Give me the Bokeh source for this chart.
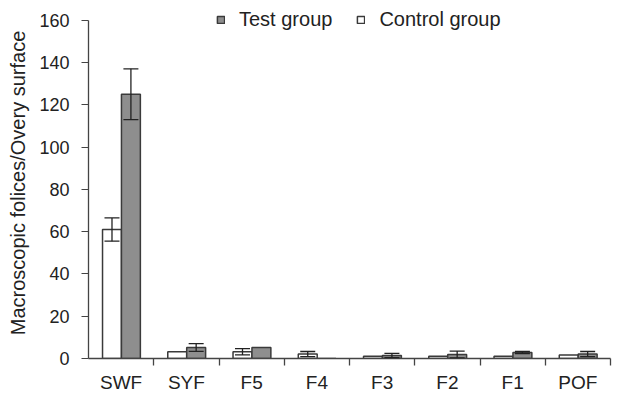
from bokeh.plotting import figure
from bokeh.models import (Range1d, LinearAxis, FixedTicker,
                          Whisker, ColumnDataSource, Legend, LegendItem, TeeHead)
from bokeh.transform import dodge
from bokeh.embed import file_html
from bokeh.resources import INLINE

cats = ["SWF", "SYF", "F5", "F4", "F3", "F2", "F1", "POF"]
control = [61, 3.2, 3.2, 2.1, 1.1, 1.1, 1.1, 1.7]
test = [125, 5.2, 5.2, 0, 1.4, 1.9, 2.8, 2.1]
control_err = [5.5, 0, 1.5, 1.2, 0, 0, 0, 0]
test_err = [12, 1.8, 0, 0, 1.0, 1.6, 0.5, 1.2]
y_ticks = [0, 20, 40, 60, 80, 100, 120, 140, 160]

FONT = "Liberation Sans"
AX = "#444444"
EDGE = "#3a3a3a"
GRAY = "#8e8e8e"
C_OFF, T_OFF, BW = -0.14, 0.15, 0.29
Y_END = 166   # a little headroom above the last tick so the legend is not clipped
FH = 351

# category slot i occupies [i, i+1] on a numeric axis; centres at i + 0.5
pos = [i + 0.5 for i in range(len(cats))]
seps = [i + 1 for i in range(len(cats))]
src = ColumnDataSource(dict(pos=pos, control=control, test=test))

p = figure(x_range=Range1d(0, len(cats)), y_range=Range1d(0, Y_END),
           frame_width=522, frame_height=FH, output_backend="svg", toolbar_location=None,
           x_axis_location=None, min_border_left=88, min_border_right=31,
           min_border_top=7, min_border_bottom=35)
p.grid.visible = False
p.outline_line_color = None

r_ctrl = p.vbar(x=dodge("pos", C_OFF), top="control", width=BW, source=src,
                fill_color="white", line_color=EDGE, line_width=1.5)
r_test = p.vbar(x=dodge("pos", T_OFF), top="test", width=BW, source=src,
                fill_color=GRAY, line_color=EDGE, line_width=1.5)

def whisk(vals, errs, off):
    c = [x for x, e in zip(pos, errs) if e > 0]
    up = [v + e for v, e in zip(vals, errs) if e > 0]
    lo = [v - e for v, e in zip(vals, errs) if e > 0]
    s = ColumnDataSource(dict(pos=c, upper=up, lower=lo))
    w = Whisker(base=dodge("pos", off), upper="upper", lower="lower", source=s,
                line_color="#222222", line_width=1.3, level="annotation",
                upper_head=TeeHead(size=15, line_color="#222222", line_width=1.3),
                lower_head=TeeHead(size=15, line_color="#222222", line_width=1.3))
    p.add_layout(w)

whisk(control, control_err, C_OFF)
whisk(test, test_err, T_OFF)

# y axis
ya = p.yaxis[0]
ya.ticker = FixedTicker(ticks=y_ticks)
ya.bounds = (y_ticks[0], y_ticks[-1])
ya.major_tick_in = 0
ya.major_tick_out = 7
ya.minor_tick_line_color = None
ya.axis_line_color = AX
ya.major_tick_line_color = AX
ya.axis_line_width = 1.3
ya.major_label_text_font = FONT
ya.major_label_text_font_size = "18px"
ya.major_label_text_color = "#222222"
ya.major_label_standoff = 12
ya.axis_label = "Macroscopic folices/Overy surface"
ya.axis_label_text_font = FONT
ya.axis_label_text_font_size = "20px"
ya.axis_label_text_font_style = "normal"
ya.axis_label_text_color = "#222222"
ya.axis_label_standoff = 7

# x axis: labels at slot centres, separator (minor) ticks between slots
xa = LinearAxis(ticker=FixedTicker(ticks=pos, minor_ticks=seps),
                axis_line_color=AX, axis_line_width=1.3,
                major_tick_line_color=None, major_tick_in=0, major_tick_out=7,
                minor_tick_line_color=AX, minor_tick_line_width=1.3,
                minor_tick_in=0, minor_tick_out=7,
                major_label_overrides={float(x): c for x, c in zip(pos, cats)},
                major_label_text_font=FONT, major_label_text_font_size="19px",
                major_label_text_color="#222222", major_label_standoff=6)
p.add_layout(xa, "below")

legend = Legend(items=[LegendItem(label="Test group", renderers=[r_test]),
                       LegendItem(label="Control group", renderers=[r_ctrl])],
                orientation="horizontal", location=(128, 327), border_line_color=None,
                background_fill_alpha=0, padding=0, margin=0, spacing=24,
                glyph_width=9, glyph_height=9, label_standoff=14,
                label_text_font=FONT, label_text_font_size="20px",
                label_text_color="#222222")
p.add_layout(legend)

open("out.html", "w").write(file_html(p, INLINE))
